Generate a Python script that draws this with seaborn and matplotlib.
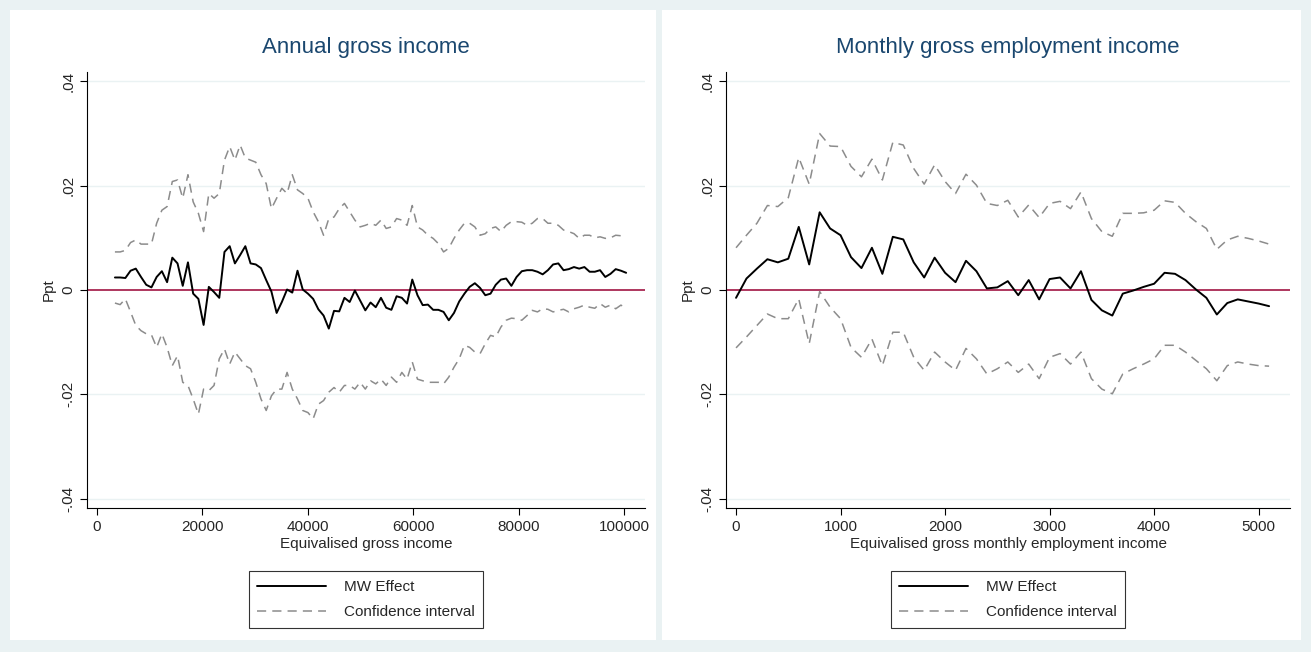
import numpy as np
import pandas as pd
import matplotlib
matplotlib.use("Agg")
import matplotlib.pyplot as plt
from matplotlib.patches import Rectangle
from matplotlib.lines import Line2D
import seaborn as sns

# left panel: annual gross income, every ~1000 from 3400
mw_annual = [0.0024, 0.0024, 0.0023, 0.0037, 0.0041, 0.0025, 0.001, 0.0005, 0.0025, 0.0036,
             0.0015, 0.0062, 0.0051, 0.0008, 0.0053, -0.0007, -0.0017, -0.0067, 0.0006, -0.0004,
             -0.0015, 0.0073, 0.0084, 0.0051, 0.0067, 0.0084, 0.0051, 0.0049, 0.0042, 0.0019,
             -0.0003, -0.0044, -0.0023, 0.0001, -0.0005, 0.0037, 0.0001, -0.0007, -0.0017, -0.0037,
             -0.0049, -0.0074, -0.004, -0.0041, -0.0015, -0.0023, -0.0001, -0.002, -0.0039,
             -0.0024, -0.0033, -0.0015, -0.0034, -0.0038, -0.0012, -0.0015, -0.0026, 0.002, -0.001,
             -0.0029, -0.0028, -0.0038, -0.0038, -0.0042, -0.0058, -0.0044, -0.0022, -0.0007, 0.0006,
             0.0013, 0.0004, -0.001, -0.0007, 0.001, 0.002, 0.0022, 0.0008, 0.0025, 0.0036,
             0.0038, 0.0038, 0.0035, 0.003, 0.0038, 0.0049, 0.0051, 0.0038, 0.004, 0.0044,
             0.0041, 0.0044, 0.0035, 0.0035, 0.0038, 0.0025, 0.0031, 0.004, 0.0037, 0.0033]
hi_annual = [0.0073, 0.0073, 0.0076, 0.0091, 0.0096, 0.0088, 0.0088, 0.0088, 0.0128, 0.0153,
             0.016, 0.0208, 0.0211, 0.0176, 0.0221, 0.0169, 0.0147, 0.0112, 0.0185, 0.0176,
             0.0185, 0.0249, 0.0275, 0.0249, 0.0278, 0.0253, 0.0249, 0.0245, 0.0221, 0.0204,
             0.0156, 0.0176, 0.0195, 0.0185, 0.0221, 0.0192, 0.0185, 0.0176, 0.015, 0.0131,
             0.0105, 0.0137, 0.014, 0.0156, 0.0166, 0.015, 0.0134, 0.0121, 0.0124,
             0.0128, 0.0124, 0.0134, 0.0118, 0.0121, 0.0137, 0.0134, 0.0124, 0.0162, 0.0121,
             0.0115, 0.0105, 0.0099, 0.0089, 0.0073, 0.008, 0.0099, 0.0115, 0.0128, 0.0128,
             0.0121, 0.0105, 0.0108, 0.0118, 0.0121, 0.0112, 0.0124, 0.0131, 0.0131, 0.013,
             0.0124, 0.0128, 0.0137, 0.0137, 0.0128, 0.0128, 0.0124, 0.0115, 0.0112, 0.0108,
             0.0099, 0.0105, 0.0105, 0.01, 0.0102, 0.0099, 0.01, 0.0105, 0.0104, 0.01]
lo_annual = [-0.0025, -0.0028, -0.0017, -0.0042, -0.0068, -0.0078, -0.0084, -0.0086, -0.011, -0.0084,
             -0.011, -0.0145, -0.0126, -0.0177, -0.0183, -0.0209, -0.0238, -0.019, -0.0193, -0.0183,
             -0.0132, -0.0113, -0.0142, -0.0119, -0.0132, -0.0145, -0.0151, -0.0177, -0.0209, -0.0231,
             -0.0203, -0.019, -0.019, -0.0158, -0.019, -0.0209, -0.0231, -0.0235, -0.0247, -0.0219,
             -0.0212, -0.0196, -0.0187, -0.0196, -0.0183, -0.0183, -0.019, -0.0177,
             -0.019, -0.0174, -0.018, -0.0171, -0.0183, -0.0167, -0.0177, -0.0158, -0.0171, -0.0138,
             -0.0171, -0.0174, -0.0177, -0.0177, -0.0177, -0.018, -0.0167, -0.0148, -0.0132, -0.0106,
             -0.011, -0.0119, -0.0122, -0.0103, -0.0087, -0.009, -0.0071, -0.0058, -0.0054, -0.0055,
             -0.0058, -0.0049, -0.0039, -0.0042, -0.0036, -0.0037, -0.0042, -0.0039, -0.0037, -0.0042,
             -0.0036, -0.0033, -0.0029, -0.0033, -0.0035, -0.0026, -0.0033, -0.0029, -0.0036, -0.0029, -0.0035]

# right panel: monthly gross employment income, every 100 from 0
mw_month = [-0.0015, 0.0022, 0.0041, 0.0059, 0.0053, 0.006, 0.0121, 0.0049, 0.0149, 0.0118,
            0.0105, 0.0063, 0.0042, 0.0081, 0.0031, 0.0102, 0.0097, 0.0053, 0.0024, 0.0062,
            0.0033, 0.0015, 0.0056, 0.0036, 0.0003, 0.0005, 0.0017, -0.001, 0.0019, -0.0018,
            0.0021, 0.0024, 0.0003, 0.0036, -0.0019, -0.0039, -0.0049, -0.0007, -0.0001, 0.0006,
            0.0012, 0.0033, 0.0031, 0.0019, 0.0001, -0.0015, -0.0047, -0.0025, -0.0018, -0.0022,
            -0.0026, -0.0031]
hi_month = [0.0081, 0.0105, 0.0128, 0.0162, 0.016, 0.0177, 0.0254, 0.0203, 0.030, 0.0276,
            0.0275, 0.0237, 0.0217, 0.0251, 0.0211, 0.0283, 0.0278, 0.0233, 0.0203, 0.024,
            0.0208, 0.0185, 0.0222, 0.0201, 0.0166, 0.0162, 0.0172, 0.014, 0.0163, 0.0139,
            0.0166, 0.017, 0.0156, 0.0188, 0.0137, 0.0112, 0.0103, 0.0147, 0.0147, 0.0148,
            0.0153, 0.0171, 0.0168, 0.0147, 0.0131, 0.0118, 0.0078, 0.0096, 0.0103, 0.0099,
            0.0094, 0.0088]
lo_month = [-0.0111, -0.009, -0.0068, -0.0046, -0.0055, -0.0055, -0.0017, -0.0103, -0.0003, -0.0033,
            -0.0055, -0.011, -0.0129, -0.0094, -0.0145, -0.0081, -0.0081, -0.0129, -0.0154, -0.0119,
            -0.0138, -0.0154, -0.0112, -0.0132, -0.0161, -0.0151, -0.0138, -0.0158, -0.0142, -0.017,
            -0.0129, -0.0122, -0.0142, -0.0119, -0.017, -0.019, -0.0199, -0.0161, -0.0151, -0.0142,
            -0.0132, -0.0106, -0.0106, -0.0119, -0.0135, -0.0151, -0.0174, -0.0145, -0.0138, -0.0142,
            -0.0145, -0.0146]

navy = "#1a476f"
grid_c = "#eaf2f3"
sns.set_style("white")
plt.rcParams['font.family'] = ['Liberation Sans', 'DejaVu Sans']

fig = plt.figure(figsize=(13.11, 6.52), dpi=100)
fig.patch.set_facecolor("#eaf2f3")
W, H = 1311, 652
for x0, x1 in [(10, 656), (662, 1301)]:
    fig.patches.append(Rectangle((x0 / W, 1 - 640 / H), (x1 - x0) / W, 630 / H,
                                 transform=fig.transFigure, facecolor="white", edgecolor="none", zorder=-10))

panels = [
    (fig.add_axes([87 / W, 1 - 508 / H, 558 / W, 436 / H]), mw_annual, hi_annual, lo_annual,
     3400, 990, "Annual gross income", "Equivalised gross income", (-1900, 104000),
     [0, 20000, 40000, 60000, 80000, 100000]),
    (fig.add_axes([726 / W, 1 - 508 / H, 564 / W, 436 / H]), mw_month, hi_month, lo_month,
     0, 100, "Monthly gross employment income", "Equivalised gross monthly employment income",
     (-96, 5300), [0, 1000, 2000, 3000, 4000, 5000]),
]

for ax, mw, hi, lo, start, step, title, xlabel, xlim, xt in panels:
    ax.set_facecolor("white")
    df = pd.DataFrame({"x": start + step * np.arange(len(mw)), "mw": mw})
    dh = pd.DataFrame({"x": start + step * np.arange(len(hi)), "v": hi})
    dl = pd.DataFrame({"x": start + step * np.arange(len(lo)), "v": lo})
    for y in [-0.04, -0.02, 0.02, 0.04]:
        ax.axhline(y, color=grid_c, lw=1, zorder=0)
    ax.axhline(0, color="#990033", lw=1.1, zorder=1)
    sns.lineplot(data=dh, x="x", y="v", ax=ax, color="#8c8c8c", lw=1.1,
                 linestyle=(0, (6, 4)), zorder=2)
    sns.lineplot(data=dl, x="x", y="v", ax=ax, color="#8c8c8c", lw=1.1,
                 linestyle=(0, (6, 4)), zorder=2)
    sns.lineplot(data=df, x="x", y="mw", ax=ax, color="black", lw=1.4, zorder=3)
    ax.set_xlim(*xlim)
    ax.set_ylim(-0.0418, 0.0418)
    ax.set_yticks([-0.04, -0.02, 0, 0.02, 0.04])
    ax.set_yticklabels(["-.04", "-.02", "0", ".02", ".04"], rotation=90, va="center")
    ax.set_xticks(xt)
    ax.set_xticklabels([str(v) for v in xt])
    ax.tick_params(axis="both", labelsize=11, length=5, color="black", direction="out",
                   left=True, bottom=True)
    for s in ["top", "right"]:
        ax.spines[s].set_visible(False)
    for s in ["left", "bottom"]:
        ax.spines[s].set_color("black")
        ax.spines[s].set_linewidth(0.8)
    ax.set_title(title, color=navy, fontsize=16, pad=14)
    ax.set_xlabel(xlabel, fontsize=11, labelpad=2)
    ax.set_ylabel("Ppt", fontsize=11, labelpad=4)
    handles = [Line2D([], [], color="black", lw=1.4),
               Line2D([], [], color="#8c8c8c", lw=1.1, linestyle=(0, (6, 4)))]
    leg = ax.legend(handles, ["MW Effect", "Confidence interval"], loc="upper center",
                    bbox_to_anchor=(0.5, -0.128), frameon=True, fancybox=False, fontsize=11,
                    handlelength=4.5, borderpad=0.55, labelspacing=0.75, handletextpad=1.2)
    leg.get_frame().set_edgecolor("black")
    leg.get_frame().set_linewidth(0.8)

fig.savefig("out.png", dpi=100, facecolor=fig.get_facecolor())
